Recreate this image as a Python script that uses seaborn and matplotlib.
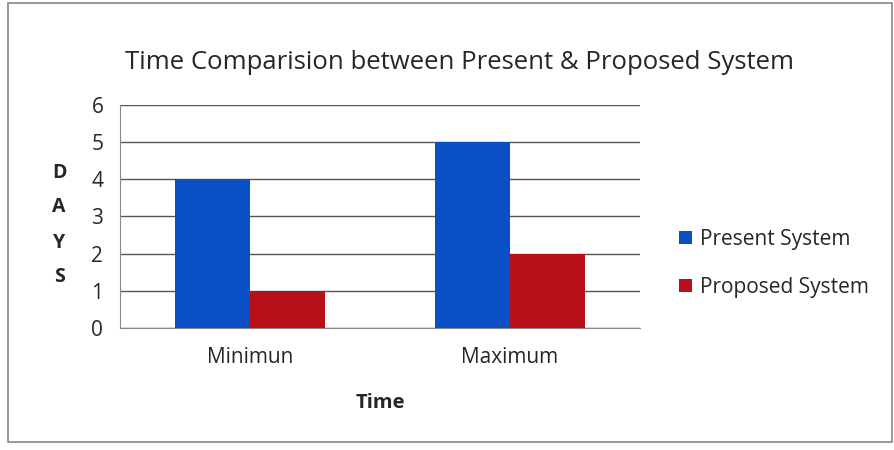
import matplotlib
matplotlib.use("Agg")
import matplotlib.pyplot as plt
import seaborn as sns
import pandas as pd
from matplotlib.patches import Rectangle

# Data
categories = ["Minimun", "Maximum"]
systems = ["Present System", "Proposed System"]
present_days = [4, 5]
proposed_days = [1, 2]
colors = ["#0a4fc4", "#b8101a"]

df = pd.DataFrame({
    "Time": categories * 2,
    "System": [systems[0]] * 2 + [systems[1]] * 2,
    "Days": present_days + proposed_days,
})

sns.set_style("white")
plt.rcParams["font.family"] = ["Open Sans", "DejaVu Sans"]

fig = plt.figure(figsize=(8.95, 4.5), dpi=100)
ax = fig.add_axes([0.134, 0.271, 0.581, 0.496])

sns.barplot(data=df, x="Time", y="Days", hue="System", palette=colors,
            width=0.577, saturation=1, linewidth=0, ax=ax, zorder=3)

ax.set_ylim(0, 6)
ax.set_yticks(range(0, 7))
ax.set_xlim(-0.5, 1.5)
ax.grid(axis="y", color="#555555", linewidth=1.0, zorder=0)
for s in ["top", "right"]:
    ax.spines[s].set_visible(False)
ax.spines["left"].set_color("#888888")
ax.spines["bottom"].set_color("#888888")

ax.tick_params(axis="y", length=7, color="#555555", labelsize=15, pad=5)
ax.tick_params(axis="x", which="major", length=0, labelsize=15, pad=14)
ax.set_xticks([-0.5, 0.5, 1.5], minor=True)
ax.tick_params(axis="x", which="minor", length=5, color="#888888")

ax.set_xlabel("Time", fontsize=14.5, fontweight="bold", labelpad=18)
ax.set_ylabel("")
fig.text(0.066, 0.50, "D\nA\nY\nS", fontsize=14, fontweight="bold",
         ha="center", va="center", linespacing=2.0)

fig.text(0.513, 0.862, "Time Comparision between Present & Proposed System",
         fontsize=18.5, ha="center", va="center")

ax.legend(loc="center left", bbox_to_anchor=(1.04, 0.29), frameon=False,
          fontsize=15, handlelength=0.6, handleheight=0.6, handletextpad=0.4,
          labelspacing=1.3)

fig.patches.append(Rectangle((0.009, 0.018), 0.988, 0.975, transform=fig.transFigure,
                             fill=False, edgecolor="#888888", linewidth=1.2))

fig.savefig("out.png", dpi=100)
